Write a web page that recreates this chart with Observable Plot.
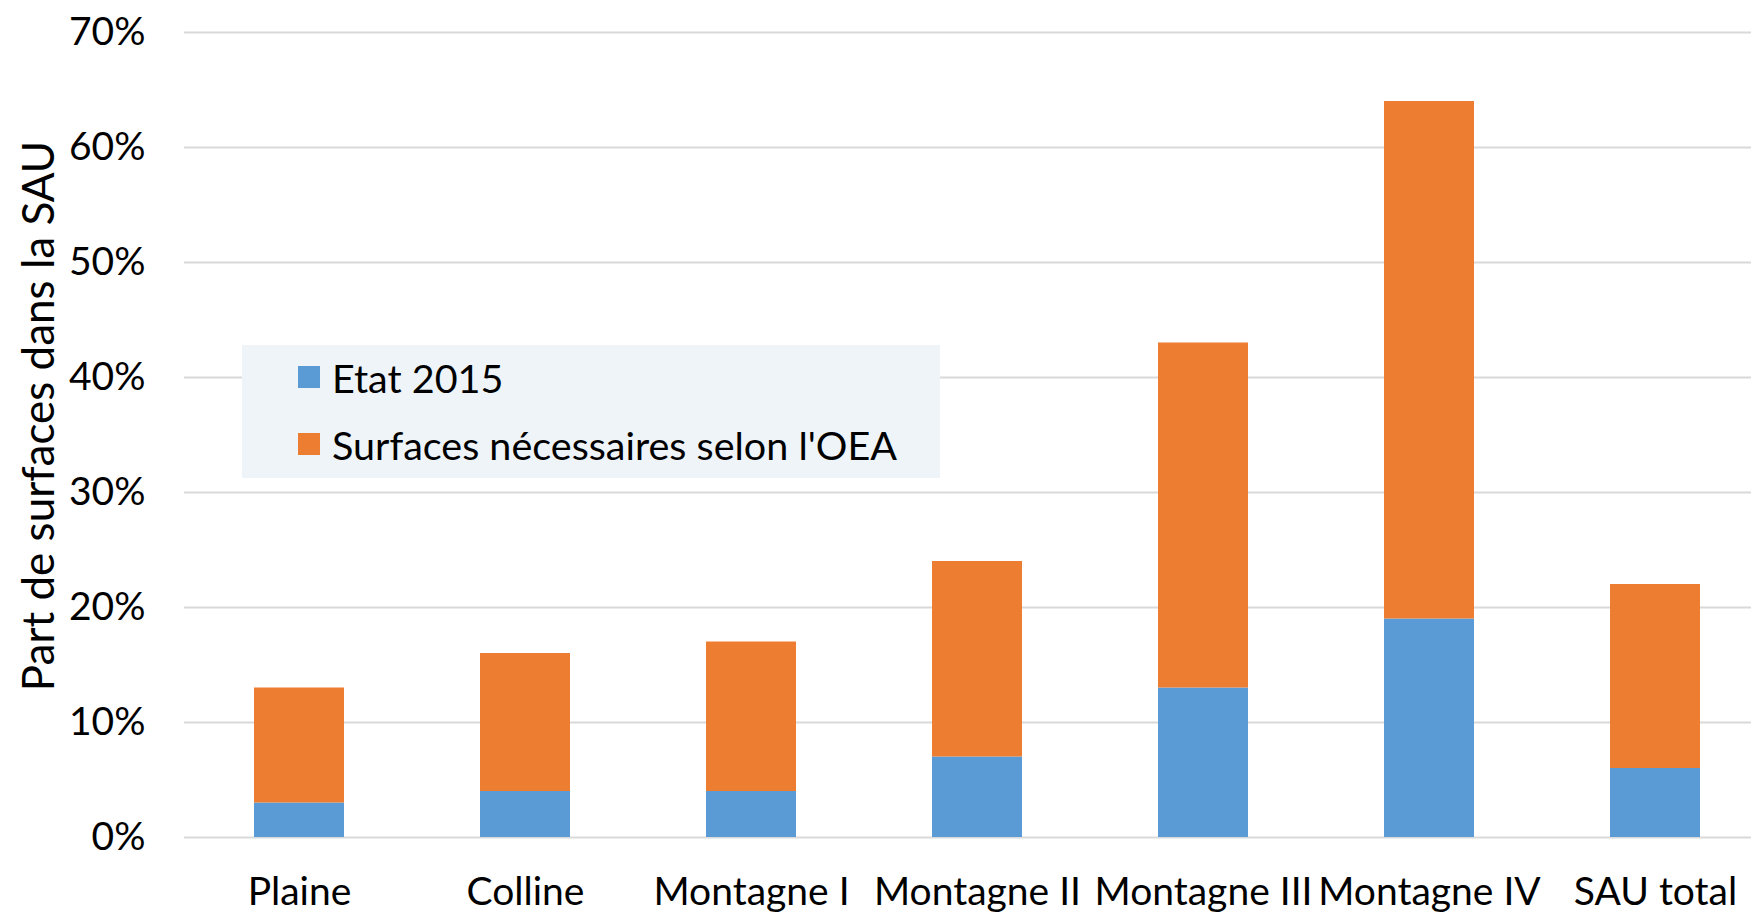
<!DOCTYPE html>
<html><head><meta charset="utf-8">
<script src="https://cdn.jsdelivr.net/npm/d3@7"></script>
<script src="https://cdn.jsdelivr.net/npm/@observablehq/plot@0.6"></script>
<style>
html,body{margin:0;padding:0;background:#fff;overflow:hidden;}
#wrap{position:relative;width:1751px;height:912px;overflow:hidden;font-family:Lato,"Open Sans",sans-serif;color:#000;}
#chart{width:1771px;}
#chart svg{display:block;max-width:none !important;}
#legend{position:absolute;left:242px;top:345px;width:698px;height:133px;background:#EEF4F8;}
.lrow{position:absolute;left:56px;height:40px;display:flex;align-items:center;font-size:39.5px;white-space:nowrap;}
.lsw{width:22px;height:22px;margin-right:12px;flex:none;}
#ylab{position:absolute;left:37px;top:416px;transform:translate(-50%,-50%) rotate(-90deg);font-size:44px;white-space:nowrap;}
</style></head>
<body>
<div id="wrap"><div id="chart"></div><div id="legend"></div><div id="ylab"></div></div>
<script>
const categories = ["Plaine","Colline","Montagne I","Montagne II","Montagne III","Montagne IV","SAU total"];
const etat2015 = [0.03,0.04,0.04,0.07,0.13,0.19,0.06];
const oea = [0.10,0.12,0.13,0.17,0.30,0.45,0.16];
const seriesNames = ["Etat 2015","Surfaces nécessaires selon l'OEA"];
const seriesColors = ["#5B9BD5","#ED7D31"];
const yTicks = [0,0.1,0.2,0.3,0.4,0.5,0.6,0.7];
const yLabel = "Part de surfaces dans la SAU";

const data = categories.flatMap((c,i)=>[
  {cat:c, series:seriesNames[0], value:etat2015[i]},
  {cat:c, series:seriesNames[1], value:oea[i]}
]);

const chart = Plot.plot({
  width:1771, height:912,
  marginTop:32, marginBottom:75, marginLeft:184, marginRight:0,
  style:{fontFamily:"Lato, 'Open Sans', sans-serif", fontSize:"38px", color:"#000", background:"transparent", overflow:"visible", maxWidth:"none"},
  x:{domain:categories, paddingInner:0.6, paddingOuter:0.3, label:null, axis:null},
  y:{domain:[0,0.7], label:null, axis:null},
  color:{domain:seriesNames, range:seriesColors},
  marks:[
    Plot.gridY(yTicks, {stroke:"#d9d9d9", strokeOpacity:1, strokeWidth:2}),
    Plot.barY(data, {x:"cat", y:"value", fill:"series", order:seriesNames}),
    Plot.axisY(yTicks, {tickSize:0, tickPadding:39, tickFormat:d=>Math.round(d*100)+"%", label:null, fill:"#000", fontSize:39}),
    Plot.axisX(categories, {tickSize:0, tickPadding:40, label:null, fill:"#000", fontSize:39})
  ]
});
document.getElementById("chart").appendChild(chart);

const leg = document.getElementById("legend");
seriesNames.forEach((n,i)=>{
  const row = document.createElement("div");
  row.className="lrow";
  row.style.top = (12 + i*67) + "px";
  const sw = document.createElement("div");
  sw.className="lsw"; sw.style.background = seriesColors[i];
  const t = document.createElement("span"); t.textContent = n;
  row.appendChild(sw); row.appendChild(t);
  leg.appendChild(row);
});
document.getElementById("ylab").textContent = yLabel;
</script>
</body></html>
